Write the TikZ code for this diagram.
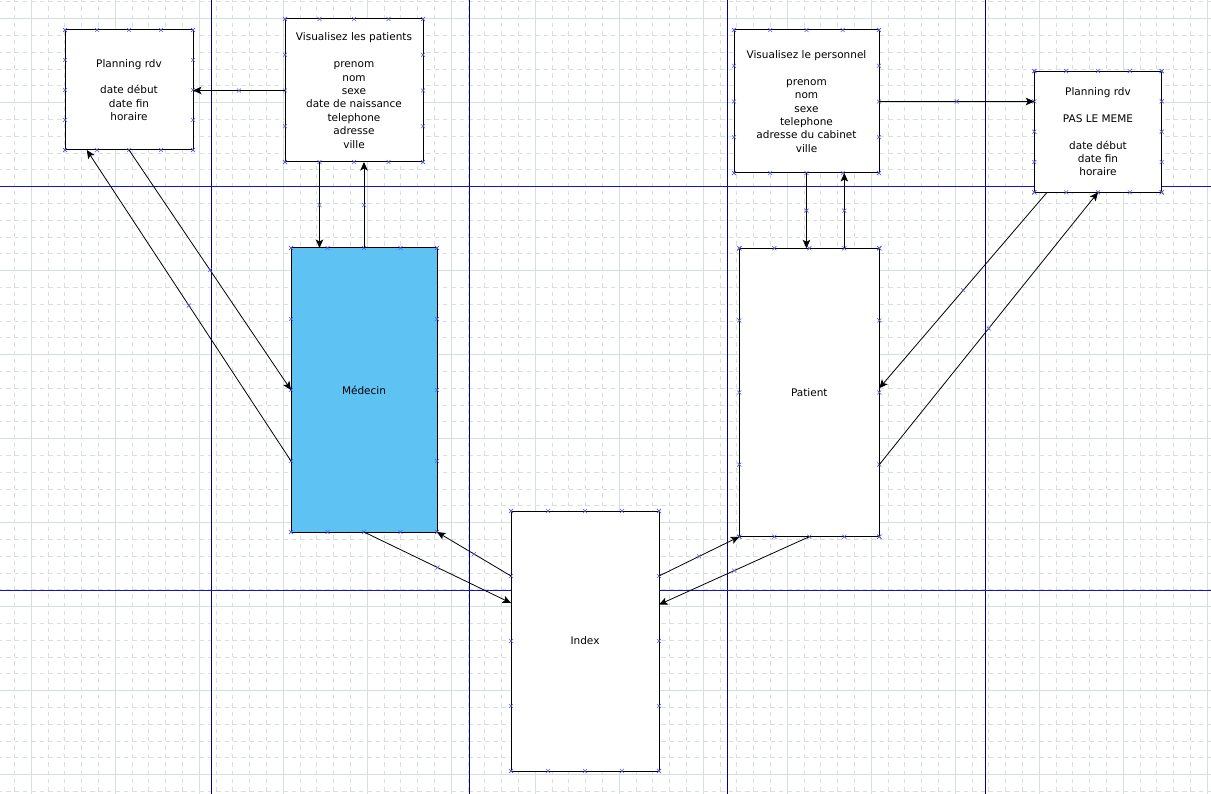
\documentclass[tikz,border=0pt]{standalone}
\usepackage{fontspec}
\setmainfont{DejaVu Sans}
\usetikzlibrary{calc,arrows.meta,decorations.markings}
\definecolor{gridc}{RGB}{214,224,222}
\definecolor{navy}{RGB}{0,0,150}
\definecolor{hblue}{RGB}{20,20,200}
\definecolor{xblue}{RGB}{90,90,230}
\definecolor{medfill}{RGB}{94,194,242}
\newcommand\boxmarks[1]{%
  \foreach \t in {0,0.25,0.5,0.75,1}{%
    \pic at ($(#1.north west)!\t!(#1.north east)$) {xmk};
    \pic at ($(#1.south west)!\t!(#1.south east)$) {xmk};
    \pic at ($(#1.north west)!\t!(#1.south west)$) {xmk};
    \pic at ($(#1.north east)!\t!(#1.south east)$) {xmk};
  }}
\begin{document}
\begin{tikzpicture}[x=1pt,y=-1pt,
  xm/.style={draw=xblue,line width=0.6pt,arrows=-},
  xmk/.pic={\draw[xm] (-2,-2)--(2,2) (-2,2)--(2,-2);},
  minor/.style={draw=gridc,line width=0.9pt,dash pattern=on 4.4pt off 4pt,dash phase=2.2pt},
  major/.style={draw=gridc,line width=1pt},
  vguide/.style={draw=navy,line width=1pt},
  hguide/.style={draw=hblue,line width=1pt},
  box/.style={draw=black,line width=1pt,fill=white,inner sep=0pt,outer sep=0pt,align=center,
    font=\fontsize{10.5}{13.4}\selectfont},
  conn/.style={draw=black,line width=0.8pt,-{Stealth[length=8.5pt,width=7.5pt,inset=2pt]},
    postaction=decorate,
    decoration={markings,mark=at position 0.5 with {\pgftransformresetnontranslations
      \draw[xm] (-2pt,-2pt)--(2pt,2pt) (-2pt,2pt)--(2pt,-2pt);}}},
]
\useasboundingbox (0,0) rectangle (1211,794);
\fill[white] (0,0) rectangle (1211,794);
% grid
\foreach \i in {-1,...,71}{\pgfmathsetmacro\gx{31.3+16.8*\i}\draw[minor] (\gx,0) -- (\gx,794);}
\foreach \j in {-1,...,47}{\pgfmathsetmacro\gy{18.7+16.8*\j}\draw[minor] (0,\gy) -- (1211,\gy);}
\foreach \i in {0,...,14}{\pgfmathsetmacro\gx{31.3+84*\i}\draw[major] (\gx,0) -- (\gx,794);}
\foreach \j in {0,...,9}{\pgfmathsetmacro\gy{18.7+84*\j}\draw[major] (0,\gy) -- (1211,\gy);}
% guide lines
\foreach \gx in {211.3,469.3,727.3,985.3}{\draw[vguide] (\gx,0) -- (\gx,794);}
\foreach \gy in {186.3,590.3}{\draw[hguide] (0,\gy) -- (1211,\gy);}
% boxes
\node[box,minimum width=128pt,minimum height=120pt] (pl) at (129,90)
  {Planning rdv\\[13.4pt]date début\\date fin\\horaire};
\node[box,minimum width=138pt,minimum height=143pt] (vp) at (354,90.5)
  {Visualisez les patients\\[13.4pt]prenom\\nom\\sexe\\date de naissance\\telephone\\adresse\\ville};
\node[box,fill=medfill,minimum width=146pt,minimum height=284pt] (med) at (364,390) {Médecin};
\node[box,minimum width=148pt,minimum height=260pt] (idx) at (585,641) {Index};
\node[box,minimum width=145pt,minimum height=143pt] (vpers) at (806.5,101.5)
  {Visualisez le personnel\\[13.4pt]prenom\\nom\\sexe\\telephone\\adresse du cabinet\\ville};
\node[box,minimum width=127.4pt,minimum height=121.3pt] (pr) at (1098,131.7)
  {Planning rdv\\[13.4pt]PAS LE MEME\\[13.4pt]date début\\date fin\\horaire};
\node[box,minimum width=140pt,minimum height=288.4pt] (pat) at (809.3,392.5) {Patient};
\boxmarks{pl}\boxmarks{vp}\boxmarks{med}\boxmarks{idx}\boxmarks{vpers}\boxmarks{pr}\boxmarks{pat}
% connectors
\draw[conn] (vp.west) -- (vp.west -| pl.east);
\coordinate (a2) at ($(vp.south west)!0.25!(vp.south east)$);
\draw[conn] (a2) -- (a2 |- med.north);
\draw[conn] (med.north) -- (med.north |- vp.south);
\draw[conn] (pl.south) -- (med.west);
\draw[conn] ($(med.north west)!0.75!(med.south west)$) -- ($(pl.south west)!0.17!(pl.south east)$);
\draw[conn] (med.south) -- ($(idx.north west)!0.354!(idx.south west)$);
\draw[conn] ($(idx.north west)!0.25!(idx.south west)$) -- (med.south east);
\draw[conn] ($(idx.north east)!0.25!(idx.south east)$) -- (pat.south west);
\draw[conn] (pat.south) -- ($(idx.north east)!0.36!(idx.south east)$);
\draw[conn] (vpers.east) -- (vpers.east -| pr.west);
\draw[conn] (vpers.south) -- (vpers.south |- pat.north);
\coordinate (a12) at ($(pat.north west)!0.75!(pat.north east)$);
\draw[conn] (a12) -- (a12 |- vpers.south);
\draw[conn] ($(pr.south west)!0.1!(pr.south east)$) -- ($(pat.north east)!0.485!(pat.south east)$);
\draw[conn] ($(pat.north east)!0.75!(pat.south east)$) -- (pr.south);
\end{tikzpicture}
\end{document}
